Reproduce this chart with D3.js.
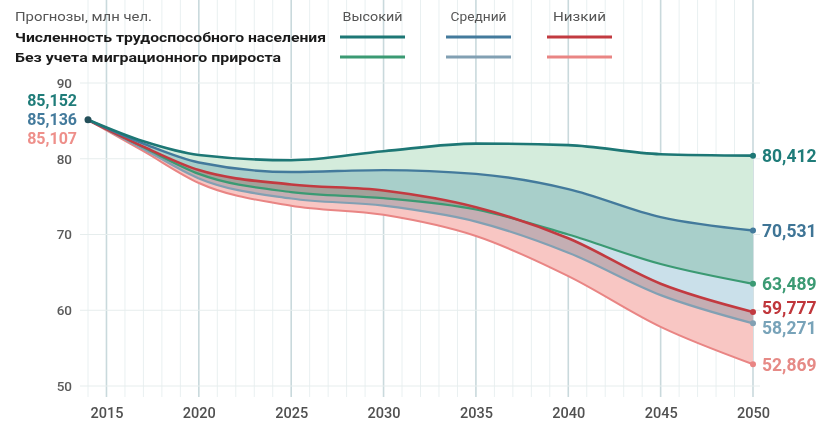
<!DOCTYPE html>
<html><head><meta charset="utf-8">
<script src="https://cdn.jsdelivr.net/npm/d3@7/dist/d3.min.js"></script>
<style>
html,body{margin:0;padding:0;background:#fff;}
svg{display:block;}
text{font-family:Roboto,"Open Sans",sans-serif;}
</style></head>
<body>
<svg id="chart" width="827" height="421"></svg>
<script>
// ---- data ----
const years = [2014, 2017, 2020, 2025, 2030, 2035, 2040, 2045, 2050];
const highWith = [85.152, 82.3, 80.5, 79.8, 81.0, 82.0, 81.8, 80.6, 80.412];
const medWith  = [85.136, 82.0, 79.5, 78.25, 78.5, 78.0, 76.0, 72.3, 70.531];
const lowWith  = [85.107, 81.6, 78.5, 76.6, 75.8, 73.6, 69.5, 63.5, 59.777];
const highWo   = [85.152, 81.5, 78.0, 75.6, 74.8, 73.3, 70.0, 66.1, 63.489];
const medWo    = [85.136, 81.3, 77.4, 74.75, 73.8, 71.7, 67.6, 62.0, 58.271];
const lowWo    = [85.107, 81.0, 76.8, 73.8, 72.6, 69.8, 64.5, 57.8, 52.869];
const startLabels = ["85,152", "85,136", "85,107"];
const endLabels = ["80,412", "70,531", "63,489", "59,777", "58,271", "52,869"];
const xTicks = [2015, 2020, 2025, 2030, 2035, 2040, 2045, 2050];
const yTicks = [50, 60, 70, 80, 90];
const scenarioNames = ["Высокий", "Средний", "Низкий"];
const rowNames = ["Численность трудоспособного населения", "Без учета миграционного прироста"];
const title = "Прогнозы, млн чел.";

// ---- styles ----
const C = {
  highWith: "#1d7775", medWith: "#437a9c", lowWith: "#c23a40",
  highWo: "#3b9a73", medWo: "#82a0b3", lowWo: "#e98584",
  fillHigh: "#d4ecdc", fillMed: "#cae0ea", fillLow: "#f8c6c3",
  labHighWith: "#1f7c79", labMedWith: "#3f7596", labLowWith: "#c0363b",
  labHighWo: "#3b9a73", labMedWo: "#78a3b9", labLowWo: "#e68a86",
  startLow: "#ee8f8a"
};

const svg = d3.select("#chart");
svg.append("rect").attr("width", 827).attr("height", 421).attr("fill", "#fff");

const x = d3.scaleLinear().domain([2014, 2050]).range([88, 753]);
const y = d3.scaleLinear().domain([50, 90]).range([386, 83]);

// grid
const grid = svg.append("g");
grid.selectAll("line.minor").data(d3.range(2014, 2051)).join("line")
  .attr("x1", d => x(d)).attr("x2", d => x(d)).attr("y1", 0).attr("y2", 397)
  .attr("stroke", d => d % 5 === 0 ? "#c9d9dc" : "#e9f0f1")
  .attr("stroke-width", d => d % 5 === 0 ? 1.6 : 1);
grid.selectAll("line.h").data(yTicks).join("line")
  .attr("x1", 80).attr("x2", 760).attr("y1", d => y(d)).attr("y2", d => y(d))
  .attr("stroke", "#e6eded").attr("stroke-width", 1);

// axes
const xAxis = d3.axisBottom(x).tickValues(xTicks).tickFormat(d3.format("d")).tickSize(0).tickPadding(0);
const gx = svg.append("g").attr("transform", "translate(0,408)").call(xAxis);
gx.select(".domain").remove();
gx.selectAll("text").attr("font-size", 14.5).attr("font-weight", 500).attr("fill", "#505050")
  .attr("font-family", "Roboto, sans-serif");

const yAxis = d3.axisLeft(y).tickValues(yTicks).tickSize(0).tickPadding(0);
const gy = svg.append("g").attr("transform", "translate(72,0)").call(yAxis);
gy.select(".domain").remove();
gy.selectAll("text").attr("font-size", 13.5).attr("font-weight", 500).attr("fill", "#5a5a5a")
  .attr("font-family", "Roboto, sans-serif");

// data helpers
const pts = arr => arr.map((v, i) => ({yr: years[i], v}));
const band = (top, bot) => years.map((yr, i) => ({yr, a: top[i], b: bot[i]}));
const area = d3.area().x(d => x(d.yr)).y0(d => y(d.b)).y1(d => y(d.a)).curve(d3.curveMonotoneX);
const line = d3.line().x(d => x(d.yr)).y(d => y(d.v)).curve(d3.curveMonotoneX);

const bands = svg.append("g").style("isolation", "isolate");
[[highWith, highWo, C.fillHigh], [medWith, medWo, C.fillMed], [lowWith, lowWo, C.fillLow]]
  .forEach(([t, b, c]) => {
    bands.append("path").attr("d", area(band(t, b))).attr("fill", c)
      .style("mix-blend-mode", "multiply");
  });

const series = [
  {d: lowWo, c: C.lowWo, w: 2},
  {d: medWo, c: C.medWo, w: 2.2},
  {d: highWo, c: C.highWo, w: 2.2},
  {d: lowWith, c: C.lowWith, w: 2.6},
  {d: medWith, c: C.medWith, w: 2.4},
  {d: highWith, c: C.highWith, w: 2.6}
];
series.forEach(s => {
  svg.append("path").attr("d", line(pts(s.d))).attr("fill", "none")
    .attr("stroke", s.c).attr("stroke-width", s.w).attr("stroke-linecap", "round");
  svg.append("circle").attr("cx", x(years[years.length - 1])).attr("cy", y(s.d[s.d.length - 1]))
    .attr("r", 3).attr("fill", s.c);
});
svg.append("circle").attr("cx", x(years[0])).attr("cy", y(highWith[0])).attr("r", 3.5).attr("fill", "#24505a");

// start labels
const sCols = [C.labHighWith, C.medWith, C.startLow];
startLabels.forEach((t, i) => {
  svg.append("text").attr("x", 77).attr("y", y(highWith[0]) + (i - 1) * 19)
    .attr("dy", "0.36em").attr("text-anchor", "end")
    .attr("font-size", 16).attr("font-weight", 700).attr("fill", sCols[i]).text(t);
});

// end labels with collision spacing
const endVals = [highWith, medWith, highWo, lowWith, medWo, lowWo].map(a => a[a.length - 1]);
const endCols = [C.labHighWith, C.labMedWith, C.labHighWo, C.labLowWith, C.labMedWo, C.labLowWo];
let ly = endVals.map(v => y(v));
for (let k = 0; k < 50; k++) {
  for (let i = 0; i < ly.length - 1; i++) {
    const gap = ly[i + 1] - ly[i];
    if (gap < 20) { const m = (20 - gap) / 2; ly[i] -= m; ly[i + 1] += m; }
  }
}
endLabels.forEach((t, i) => {
  svg.append("text").attr("x", 762).attr("y", ly[i]).attr("dy", "0.36em")
    .attr("font-size", 17.5).attr("font-weight", 700).attr("fill", endCols[i]).text(t);
});

// legend
svg.append("text").attr("x", 15).attr("y", 21).attr("font-size", 12.5).attr("fill", "#555")
  .attr("textLength", 137).attr("lengthAdjust", "spacingAndGlyphs").text(title);
svg.append("text").attr("x", 15).attr("y", 42).attr("font-size", 13.5).attr("font-weight", 700).attr("fill", "#1a1a1a")
  .attr("textLength", 311).attr("lengthAdjust", "spacingAndGlyphs").text(rowNames[0]);
svg.append("text").attr("x", 15).attr("y", 62).attr("font-size", 13.5).attr("font-weight", 700).attr("fill", "#1a1a1a")
  .attr("textLength", 266).attr("lengthAdjust", "spacingAndGlyphs").text(rowNames[1]);

const legX = [340, 446, 547];
const legW = 65;
const legRow1 = [C.highWith, C.medWith, C.lowWith];
const legRow2 = [C.highWo, C.medWo, C.lowWo];
const headW = [60, 56, 53];
scenarioNames.forEach((n, i) => {
  svg.append("text").attr("x", legX[i] + legW / 2).attr("y", 21).attr("text-anchor", "middle")
    .attr("font-size", 12.5).attr("fill", "#555")
    .attr("textLength", headW[i]).attr("lengthAdjust", "spacingAndGlyphs").text(n);
  svg.append("line").attr("x1", legX[i]).attr("x2", legX[i] + legW).attr("y1", 37).attr("y2", 37)
    .attr("stroke", legRow1[i]).attr("stroke-width", 3.2);
  svg.append("line").attr("x1", legX[i]).attr("x2", legX[i] + legW).attr("y1", 57).attr("y2", 57)
    .attr("stroke", legRow2[i]).attr("stroke-width", 3);
});
</script>
</body></html>
